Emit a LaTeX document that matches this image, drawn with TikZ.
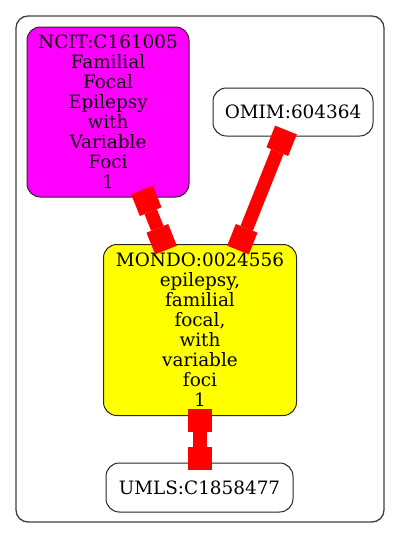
\documentclass[tikz,border=0pt]{standalone}
\usepackage{fontspec}
\setmainfont{DejaVu Serif}
\usetikzlibrary{arrows.meta,calc}
\definecolor{gvmagenta}{RGB}{255,0,255}
\definecolor{gvyellow}{RGB}{255,255,0}
\definecolor{gvred}{RGB}{255,0,0}
\begin{document}
\begin{tikzpicture}[x=0.75pt,y=-0.75pt,
  nd/.style={draw=black!85,line width=0.75pt,rounded corners=10pt,align=center,
    font=\fontsize{13.8}{15}\selectfont,inner sep=0pt},
  boxtip/.tip={Square[length=17.5pt,width=17.5pt,line width=0pt]},
  edge/.style={draw=gvred,line width=10pt,{boxtip}-{boxtip}},
  cluster/.style={draw=black!75,line width=1pt,rounded corners=9pt}]
\useasboundingbox (0,0) rectangle (400,539);
\node[cluster, minimum width=276pt, minimum height=379.5pt] (clu) at (200,269) {};
\node[nd, fill=gvmagenta, minimum width=121.5pt, minimum height=127.5pt] (ncit) at (108,112)
  {NCIT:C161005\\Familial\\Focal\\Epilepsy\\with\\Variable\\Foci\\1};
\node[nd, fill=white, minimum width=120pt, minimum height=36pt] (omim) at (293,112) {OMIM:604364};
\node[nd, fill=gvyellow, minimum width=144.75pt, minimum height=128.25pt] (mondo) at (200,330)
  {MONDO:0024556\\epilepsy,\\familial\\focal,\\with\\variable\\foci\\1};
\node[nd, fill=white, minimum width=140.25pt, minimum height=36.75pt] (umls) at (199.5,487.5) {UMLS:C1858477};
\coordinate (e1a) at ($(ncit.center)+(34,78)$);
\coordinate (e1b) at ($(mondo.center)+(-34,-80)$);
\coordinate (e2a) at ($(omim.center)+(-7,18)$);
\coordinate (e2b) at ($(mondo.center)+(38,-80)$);
\coordinate (e3a) at ($(mondo.center)+(0,79)$);
\coordinate (e3b) at ($(umls.center)+(0.5,-17.5)$);
\draw[edge] (e1a) -- (e1b);
\draw[edge] (e2a) -- (e2b);
\draw[edge] (e3a) -- (e3b);
\end{tikzpicture}
\end{document}
